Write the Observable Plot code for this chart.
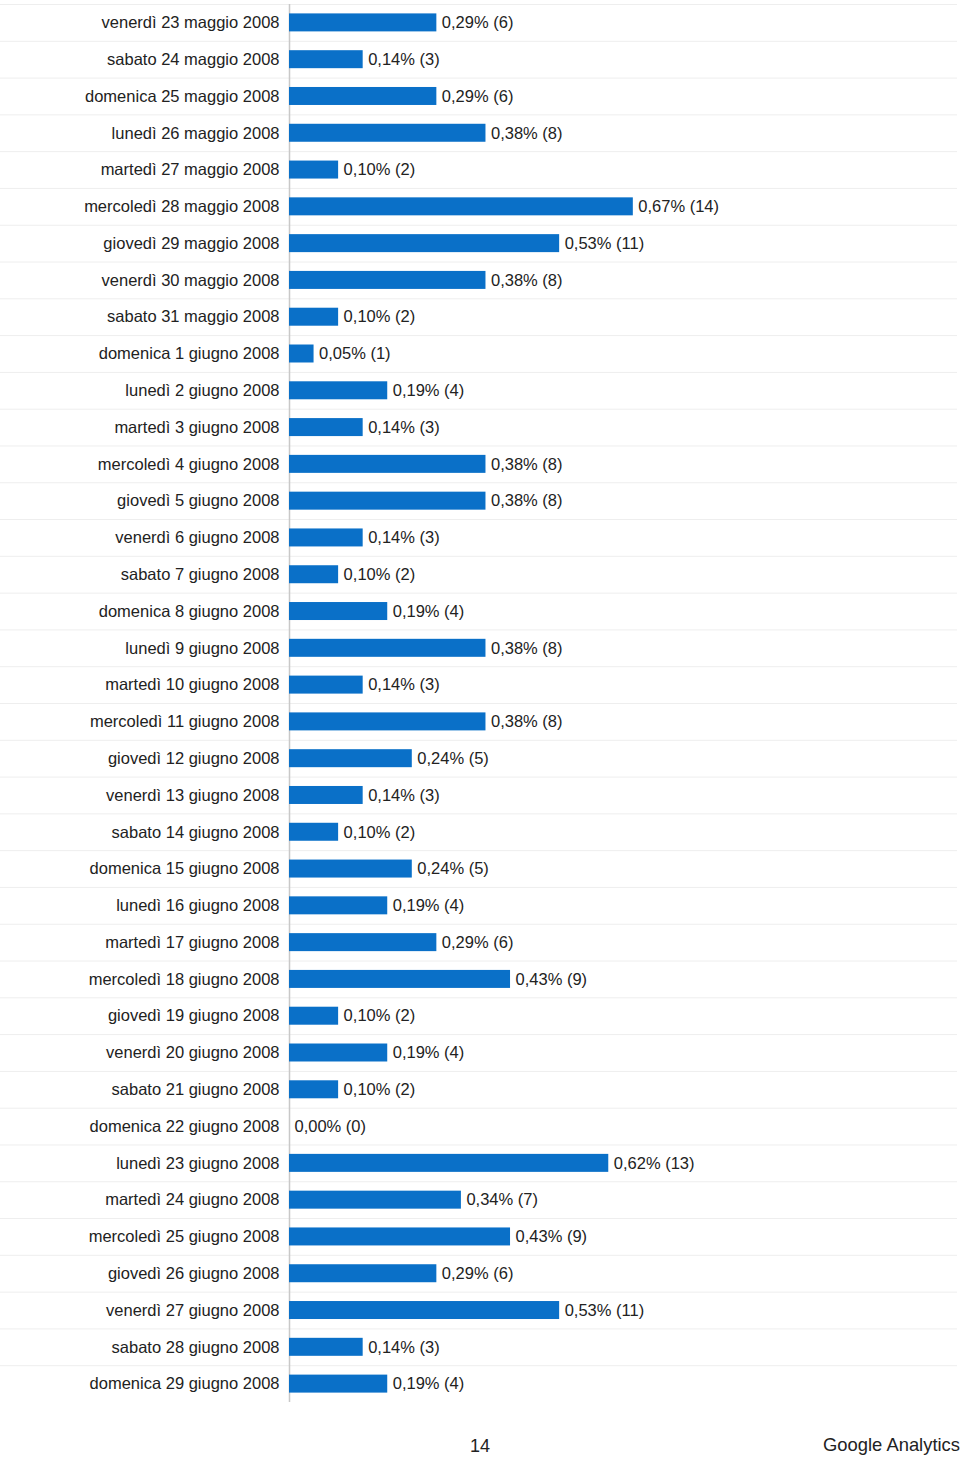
<!DOCTYPE html>
<html>
<head>
<meta charset="utf-8">
<script src="https://cdn.jsdelivr.net/npm/d3@7"></script>
<script src="https://cdn.jsdelivr.net/npm/@observablehq/plot@0.6"></script>
<style>
  html, body { margin: 0; padding: 0; background: #fff; }
  #wrap { position: relative; width: 960px; height: 1458px; font-family: "Liberation Sans", Arial, Helvetica, sans-serif; color: #222; }
  #page { position: absolute; left: 0; width: 960px; text-align: center; top: 1436px; font-size: 18px; }
  #brand { position: absolute; right: 0; top: 1434px; font-size: 18.4px; }
</style>
</head>
<body>
<div id="wrap">
  <div id="chart"></div>
  <div id="page">14</div>
  <div id="brand">Google Analytics</div>
</div>
<script>
const dates = [
  "venerdì 23 maggio 2008", "sabato 24 maggio 2008", "domenica 25 maggio 2008", "lunedì 26 maggio 2008",
  "martedì 27 maggio 2008", "mercoledì 28 maggio 2008", "giovedì 29 maggio 2008", "venerdì 30 maggio 2008",
  "sabato 31 maggio 2008", "domenica 1 giugno 2008", "lunedì 2 giugno 2008", "martedì 3 giugno 2008",
  "mercoledì 4 giugno 2008", "giovedì 5 giugno 2008", "venerdì 6 giugno 2008", "sabato 7 giugno 2008",
  "domenica 8 giugno 2008", "lunedì 9 giugno 2008", "martedì 10 giugno 2008", "mercoledì 11 giugno 2008",
  "giovedì 12 giugno 2008", "venerdì 13 giugno 2008", "sabato 14 giugno 2008", "domenica 15 giugno 2008",
  "lunedì 16 giugno 2008", "martedì 17 giugno 2008", "mercoledì 18 giugno 2008", "giovedì 19 giugno 2008",
  "venerdì 20 giugno 2008", "sabato 21 giugno 2008", "domenica 22 giugno 2008", "lunedì 23 giugno 2008",
  "martedì 24 giugno 2008", "mercoledì 25 giugno 2008", "giovedì 26 giugno 2008", "venerdì 27 giugno 2008",
  "sabato 28 giugno 2008", "domenica 29 giugno 2008"
];
const counts = [6,3,6,8,2,14,11,8,2,1,4,3,8,8,3,2,4,8,3,8,5,3,2,5,4,6,9,2,4,2,0,13,7,9,6,11,3,4];
const percents = [0.29,0.14,0.29,0.38,0.10,0.67,0.53,0.38,0.10,0.05,0.19,0.14,0.38,0.38,0.14,0.10,0.19,0.38,0.14,0.38,0.24,0.14,0.10,0.24,0.19,0.29,0.43,0.10,0.19,0.10,0.00,0.62,0.34,0.43,0.29,0.53,0.14,0.19];

const rows = dates.map((d, i) => ({
  date: d,
  count: counts[i],
  label: percents[i].toFixed(2).replace(".", ",") + "% (" + counts[i] + ")"
}));

const W = 960, H = 1410, mTop = 4, mBottom = 8, mLeft = 289, mRight = 3;
const bw = (H - mTop - mBottom) / dates.length;

const chart = Plot.plot({
  width: W,
  height: H,
  marginTop: mTop,
  marginBottom: mBottom,
  marginLeft: mLeft,
  marginRight: mRight,
  style: { fontSize: "16.5px", fontFamily: "'Liberation Sans', Arial, Helvetica, sans-serif", color: "#222", background: "#fff" },
  x: { domain: [0, 27.2], axis: null },
  y: { domain: dates, padding: 0, tickSize: 0, tickPadding: 10, label: null },
  marks: [
    Plot.ruleY(rows, { y: "date", dy: -bw / 2, insetLeft: -mLeft, stroke: "#eeeeee", strokeWidth: 1 }),
    Plot.ruleX([0], { stroke: "#c8c8c8", strokeWidth: 1.5 }),
    Plot.barX(rows, { y: "date", x: "count", fill: "#0a70c8", insetTop: 9.4, insetBottom: 9.4 }),
    Plot.text(rows, { y: "date", x: "count", text: "label", textAnchor: "start", dx: 5, fill: "#222", fontSize: 16.5 })
  ]
});
document.getElementById("chart").appendChild(chart);
</script>
</body>
</html>
